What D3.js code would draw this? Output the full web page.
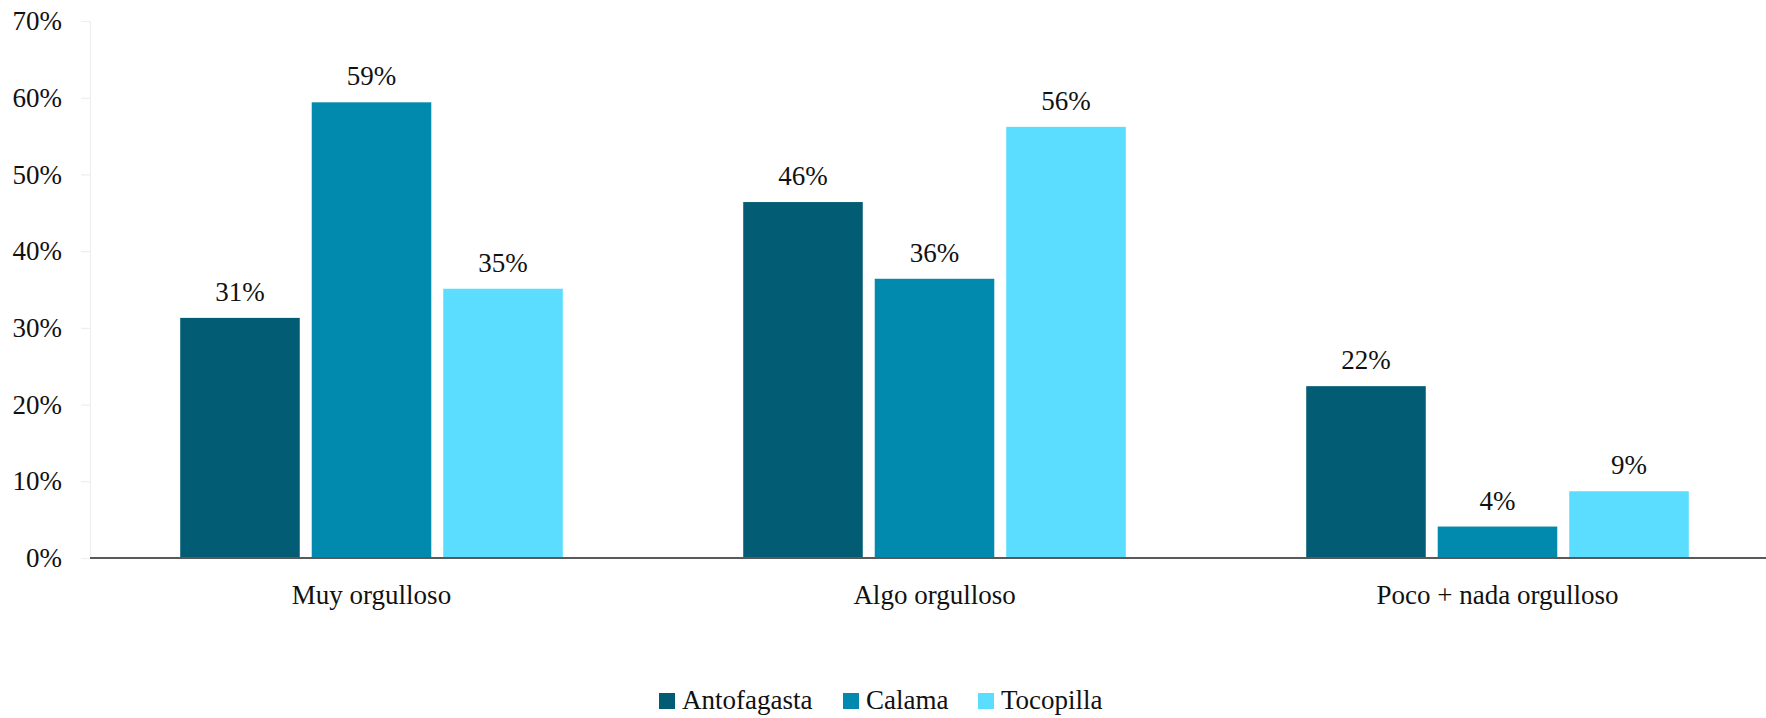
<!DOCTYPE html>
<html><head><meta charset="utf-8">
<script src="https://cdn.jsdelivr.net/npm/d3@7"></script>
<style>body{margin:0;background:#fff}svg{display:block}text{font-family:"Liberation Serif","DejaVu Serif",serif;fill:#111}</style>
</head><body><svg id="c" width="1766" height="718"></svg>
<script>
const categories = ["Muy orgulloso", "Algo orgulloso", "Poco + nada orgulloso"];
const seriesNames = ["Antofagasta", "Calama", "Tocopilla"];
const antofagasta = [31.3, 46.4, 22.4];
const calama = [59.4, 36.4, 4.1];
const tocopilla = [35.1, 56.2, 8.7];
const yTicks = [0, 10, 20, 30, 40, 50, 60, 70];
const colors = ["#025d74", "#0189ae", "#5addfe"];

const seriesValues = [antofagasta, calama, tocopilla];
const svg = d3.select("#c");
const fs = 27;
const ff = "'Liberation Serif', serif";

const x0 = d3.scaleBand().domain(categories).range([90, 1779]).paddingInner(0).paddingOuter(0);
const x1 = d3.scaleBand().domain(seriesNames).range([0, x0.bandwidth()]).paddingInner(0.091).paddingOuter(0.686);
const y = d3.scaleLinear().domain([0, 70]).range([558, 21]);

// y axis
const yAxis = svg.append("g").attr("transform", "translate(90,0)")
  .call(d3.axisLeft(y).tickValues(yTicks).tickFormat(d => d + "%").tickSize(9).tickPadding(19));
yAxis.attr("font-family", ff);
yAxis.select(".domain").attr("stroke", "#eeeeee").attr("stroke-width", 1.2);
yAxis.selectAll(".tick line").attr("stroke", "#eeeeee").attr("stroke-width", 1.2);
yAxis.selectAll(".tick text").style("font-size", fs + "px").style("font-family", ff).attr("fill", "#111");

// bars
const groups = svg.append("g").selectAll("g").data(categories).join("g")
  .attr("transform", d => `translate(${x0(d)},0)`);
groups.each(function(cat, ci) {
  const g = d3.select(this);
  seriesNames.forEach((s, si) => {
    const v = seriesValues[si][ci];
    g.append("rect").attr("x", x1(s)).attr("y", y(v))
      .attr("width", x1.bandwidth()).attr("height", y(0) - y(v))
      .attr("fill", colors[si]);
    g.append("text").attr("x", x1(s) + x1.bandwidth() / 2).attr("y", y(v) - 17)
      .attr("text-anchor", "middle").style("font-size", fs + "px").style("font-family", ff).text(Math.round(v) + "%");
  });
});

// x axis
const xAxis = svg.append("g").attr("transform", "translate(0,558)")
  .call(d3.axisBottom(x0).tickSize(0).tickPadding(27));
xAxis.attr("font-family", ff);
xAxis.select(".domain").attr("stroke", "#595959").attr("stroke-width", 2).attr("d", "M90,0H1766");
xAxis.selectAll(".tick text").style("font-size", fs + "px").style("font-family", ff).attr("fill", "#111");

// legend
const legendX = [659, 843, 978];
const lg = svg.append("g");
seriesNames.forEach((s, i) => {
  lg.append("rect").attr("x", legendX[i]).attr("y", 693).attr("width", 16).attr("height", 16).attr("fill", colors[i]);
  lg.append("text").attr("x", legendX[i] + 23).attr("y", 709).style("font-size", fs + "px").style("font-family", ff).text(s);
});
</script></body></html>
